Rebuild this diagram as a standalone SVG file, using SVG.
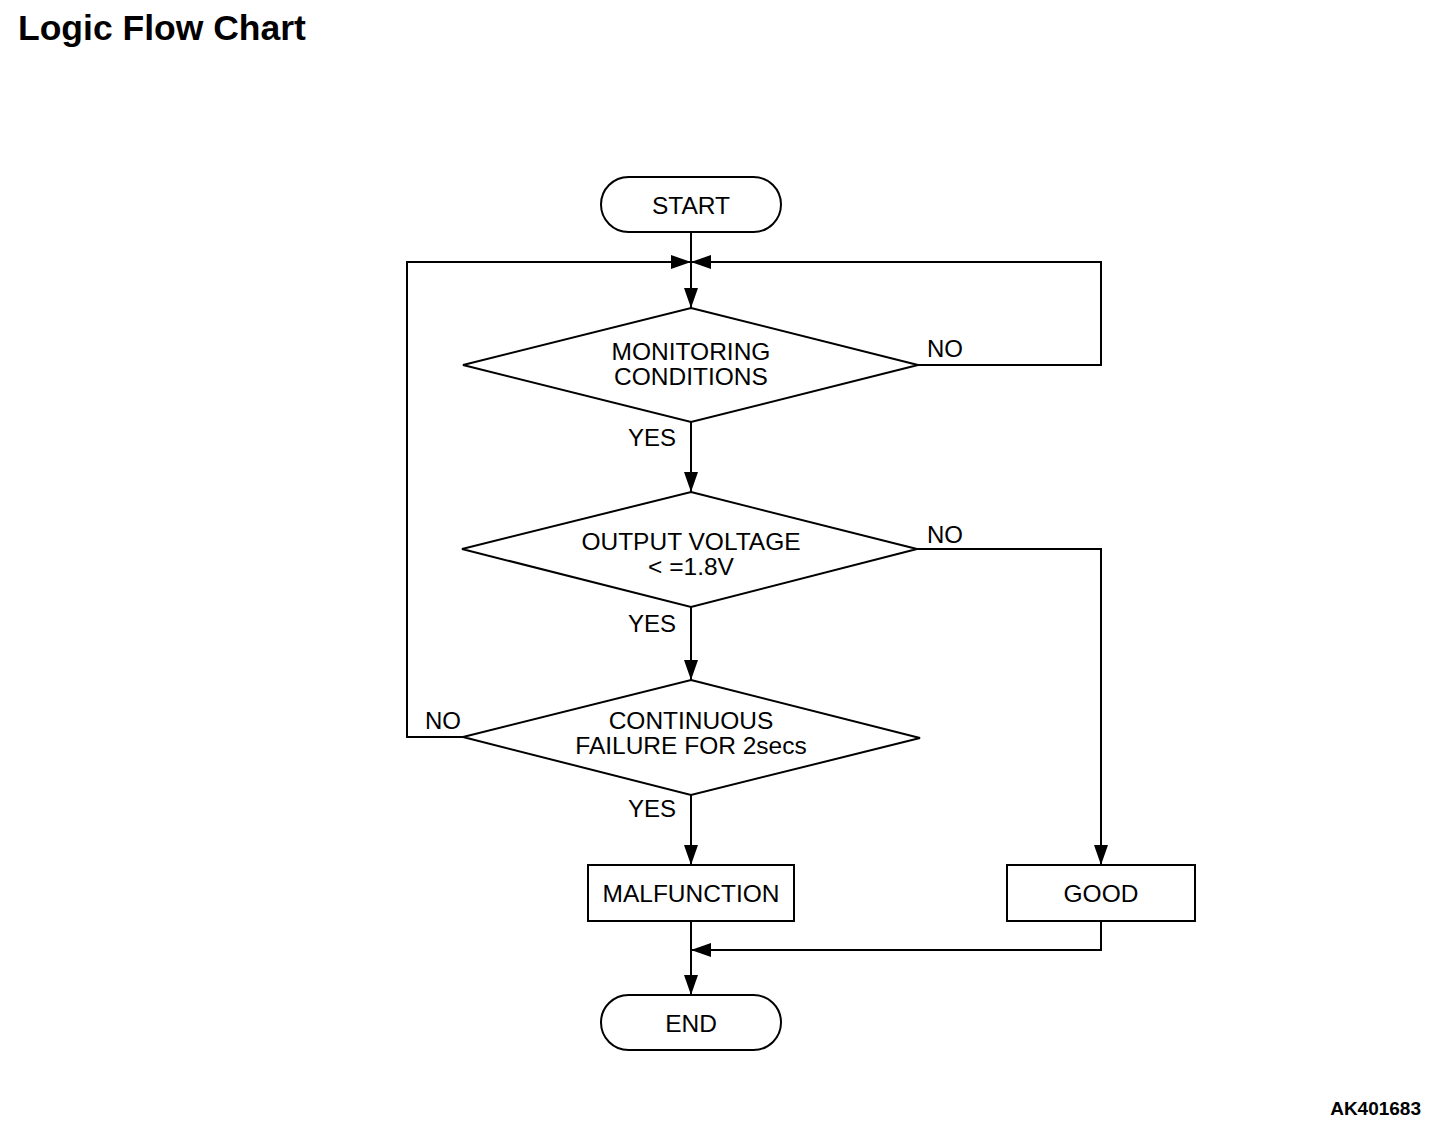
<svg xmlns="http://www.w3.org/2000/svg" width="1456" height="1136" viewBox="0 0 1456 1136">
<defs>
<marker id="arr" viewBox="0 0 20 14" refX="20" refY="7" markerWidth="20" markerHeight="14" markerUnits="userSpaceOnUse" orient="auto">
<path d="M0,0 L20,7 L0,14 Z" fill="#000"/>
</marker>
</defs>
<style>
.s{fill:#fff;stroke:#000;stroke-width:2}
.c{fill:none;stroke:#000;stroke-width:2}
.t{font-family:"Liberation Sans",Arial,sans-serif;font-size:24.5px;fill:#000;text-anchor:middle}
.l{font-family:"Liberation Sans",Arial,sans-serif;font-size:24px;fill:#000}
</style>
<rect width="1456" height="1136" fill="#fff"/>
<text x="18" y="40" font-family="Liberation Sans,Arial,sans-serif" font-size="35.5" font-weight="bold">Logic Flow Chart</text>
<text x="1421" y="1115" font-family="Liberation Sans,Arial,sans-serif" font-size="19" font-weight="bold" text-anchor="end">AK401683</text>
<g id="connectors">
<line class="c" x1="691" y1="232" x2="691" y2="308" marker-end="url(#arr)"/>
<polyline class="c" points="463,737 407,737 407,262 691,262" marker-end="url(#arr)"/>
<polyline class="c" points="918,365 1101,365 1101,262 691,262" marker-end="url(#arr)"/>
<line class="c" x1="691" y1="422" x2="691" y2="492" marker-end="url(#arr)"/>
<line class="c" x1="691" y1="607" x2="691" y2="680" marker-end="url(#arr)"/>
<polyline class="c" points="917,549 1101,549 1101,865" marker-end="url(#arr)"/>
<line class="c" x1="691" y1="795" x2="691" y2="865" marker-end="url(#arr)"/>
<line class="c" x1="691" y1="921" x2="691" y2="995" marker-end="url(#arr)"/>
<polyline class="c" points="1101,921 1101,950 691,950" marker-end="url(#arr)"/>
<text class="l" x="927" y="357">NO</text>
<text class="l" x="628" y="446">YES</text>
<text class="l" x="927" y="543">NO</text>
<text class="l" x="628" y="632">YES</text>
<text class="l" x="425" y="729">NO</text>
<text class="l" x="628" y="817">YES</text>
</g>
<g id="start">
<rect class="s" x="601" y="177" width="180" height="55" rx="27.5"/>
<text class="t" x="691" y="214">START</text>
</g>
<g id="monitoring">
<polygon class="s" points="691,308 918,365 691,422 463,365"/>
<text class="t" x="691" y="360">MONITORING</text>
<text class="t" x="691" y="385">CONDITIONS</text>
</g>
<g id="voltage">
<polygon class="s" points="691,492 917,549 691,607 462,549"/>
<text class="t" x="691" y="550">OUTPUT VOLTAGE</text>
<text class="t" x="691" y="575">&lt; =1.8V</text>
</g>
<g id="continuous">
<polygon class="s" points="691,680 920,738 691,795 463,737"/>
<text class="t" x="691" y="729">CONTINUOUS</text>
<text class="t" x="691" y="754">FAILURE FOR 2secs</text>
</g>
<g id="malfunction">
<rect class="s" x="588" y="865" width="206" height="56"/>
<text class="t" x="691" y="902">MALFUNCTION</text>
</g>
<g id="good">
<rect class="s" x="1007" y="865" width="188" height="56"/>
<text class="t" x="1101" y="902">GOOD</text>
</g>
<g id="end">
<rect class="s" x="601" y="995" width="180" height="55" rx="27.5"/>
<text class="t" x="691" y="1032">END</text>
</g>
</svg>
